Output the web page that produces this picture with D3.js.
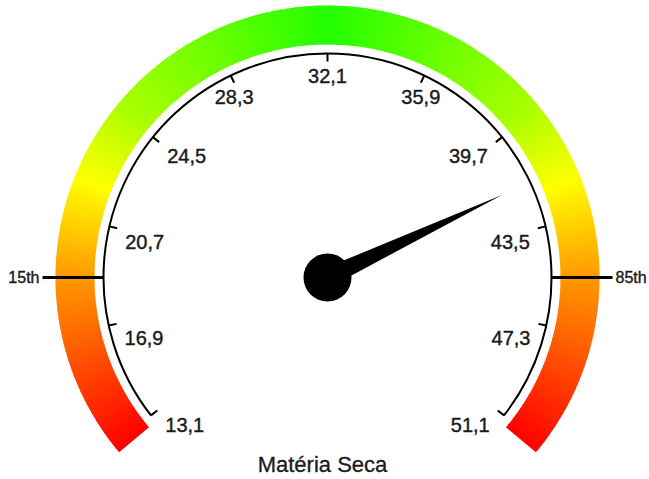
<!DOCTYPE html>
<html><head><meta charset="utf-8">
<script src="https://cdn.jsdelivr.net/npm/d3@7"></script>
<style>html,body{margin:0;padding:0;background:#fff;}svg{display:block;}</style>
</head><body>
<script>
const tickValues = [13.1, 16.9, 20.7, 24.5, 28.3, 32.1, 35.9, 39.7, 43.5, 47.3, 51.1];
const percentileNames = ["15th", "85th"];
const percentileValues = [18.74, 45.46];
const needleValue = 41.7;
const title = "Matéria Seca";

const W = 649, H = 479, cx = 327.5, cy = 277.5;
const FONT = "Liberation Sans, Arial, sans-serif";
const svg = d3.select("body").append("svg").attr("width", W).attr("height", H);
const g = svg.append("g").attr("transform", `translate(${cx},${cy})`);
const rad = d => d * Math.PI / 180;

const angle = d3.scaleLinear().domain([tickValues[0], tickValues[tickValues.length - 1]]).range([-128, 128]);

// coloured band
const bandStart = -130, bandEnd = 130, N = 260;
const hue = d3.scaleLinear().domain([0, 40, 80, 130]).range([0, 36, 80, 112]);
const arcBand = d3.arc().innerRadius(233).outerRadius(272);
for (let i = 0; i < N; i++) {
  const a0 = bandStart + (bandEnd - bandStart) * i / N;
  const a1 = bandStart + (bandEnd - bandStart) * (i + 1) / N;
  const mid = (a0 + a1) / 2;
  const c = d3.hsl(hue(130 - Math.abs(mid)), 1, 0.5);
  g.append("path")
    .attr("d", arcBand({startAngle: rad(a0), endAngle: rad(a1 + (i < N - 1 ? 0.3 : 0))}))
    .attr("fill", c.formatHex());
}

// axis arc
const R = 224;
g.append("path")
  .attr("d", d3.arc().innerRadius(R).outerRadius(R)({startAngle: rad(angle.range()[0]), endAngle: rad(angle.range()[1])}))
  .attr("fill", "none").attr("stroke", "#000").attr("stroke-width", 2);

const pol = (a, r) => [r * Math.sin(rad(a)), -r * Math.cos(rad(a))];

tickValues.forEach(v => {
  const a = angle(v);
  const p1 = pol(a, R), p2 = pol(a, R - 8);
  g.append("line").attr("x1", p1[0]).attr("y1", p1[1]).attr("x2", p2[0]).attr("y2", p2[1])
    .attr("stroke", "#000").attr("stroke-width", 2);
  let anchor = "middle", x = p2[0];
  if (a < -35) { anchor = "start"; x = p2[0] + 8; }
  else if (a > 35) { anchor = "end"; x = p2[0] - 8; }
  g.append("text").attr("x", x).attr("y", p2[1] + 14).attr("dy", "0.36em")
    .attr("text-anchor", anchor)
    .style("font-family", FONT).style("font-size", "20px").attr("fill", "#1a1a1a")
    .attr("stroke", "#1a1a1a").attr("stroke-width", 0.4)
    .text(v.toFixed(1).replace(".", ","));
});

// percentile markers
percentileValues.forEach((v, i) => {
  const a = angle(v);
  const p1 = pol(a, R), p2 = pol(a, 285);
  g.append("line").attr("x1", p1[0]).attr("y1", p1[1]).attr("x2", p2[0]).attr("y2", p2[1])
    .attr("stroke", "#000").attr("stroke-width", 3);
  const pt = pol(a, 288);
  g.append("text").attr("x", pt[0]).attr("y", pt[1]).attr("dy", "0.36em")
    .attr("text-anchor", a < 0 ? "end" : "start")
    .style("font-family", FONT).style("font-size", "16px").attr("fill", "#1a1a1a")
    .attr("stroke", "#1a1a1a").attr("stroke-width", 0.4)
    .text(percentileNames[i]);
});

// needle
const na = angle(needleValue);
const off = (p, a, r) => { const q = pol(a, r); return [p[0] + q[0], p[1] + q[1]]; };
const tip = pol(na, 193);
const c0 = pol(na, 0), c1 = pol(na, 21);
const pts = [off(c0, na - 90, 12), off(c1, na - 90, 8.5), tip, off(c1, na + 90, 8.5), off(c0, na + 90, 12)];
g.append("path").attr("d", d3.line()(pts) + "Z").attr("fill", "#000");
g.append("circle").attr("r", 24).attr("fill", "#000");

svg.append("text").attr("x", 322.5).attr("y", 472).attr("text-anchor", "middle")
  .style("font-family", FONT).style("font-size", "22px").attr("fill", "#1a1a1a")
  .attr("stroke", "#1a1a1a").attr("stroke-width", 0.3)
  .text(title);
</script>
</body></html>
